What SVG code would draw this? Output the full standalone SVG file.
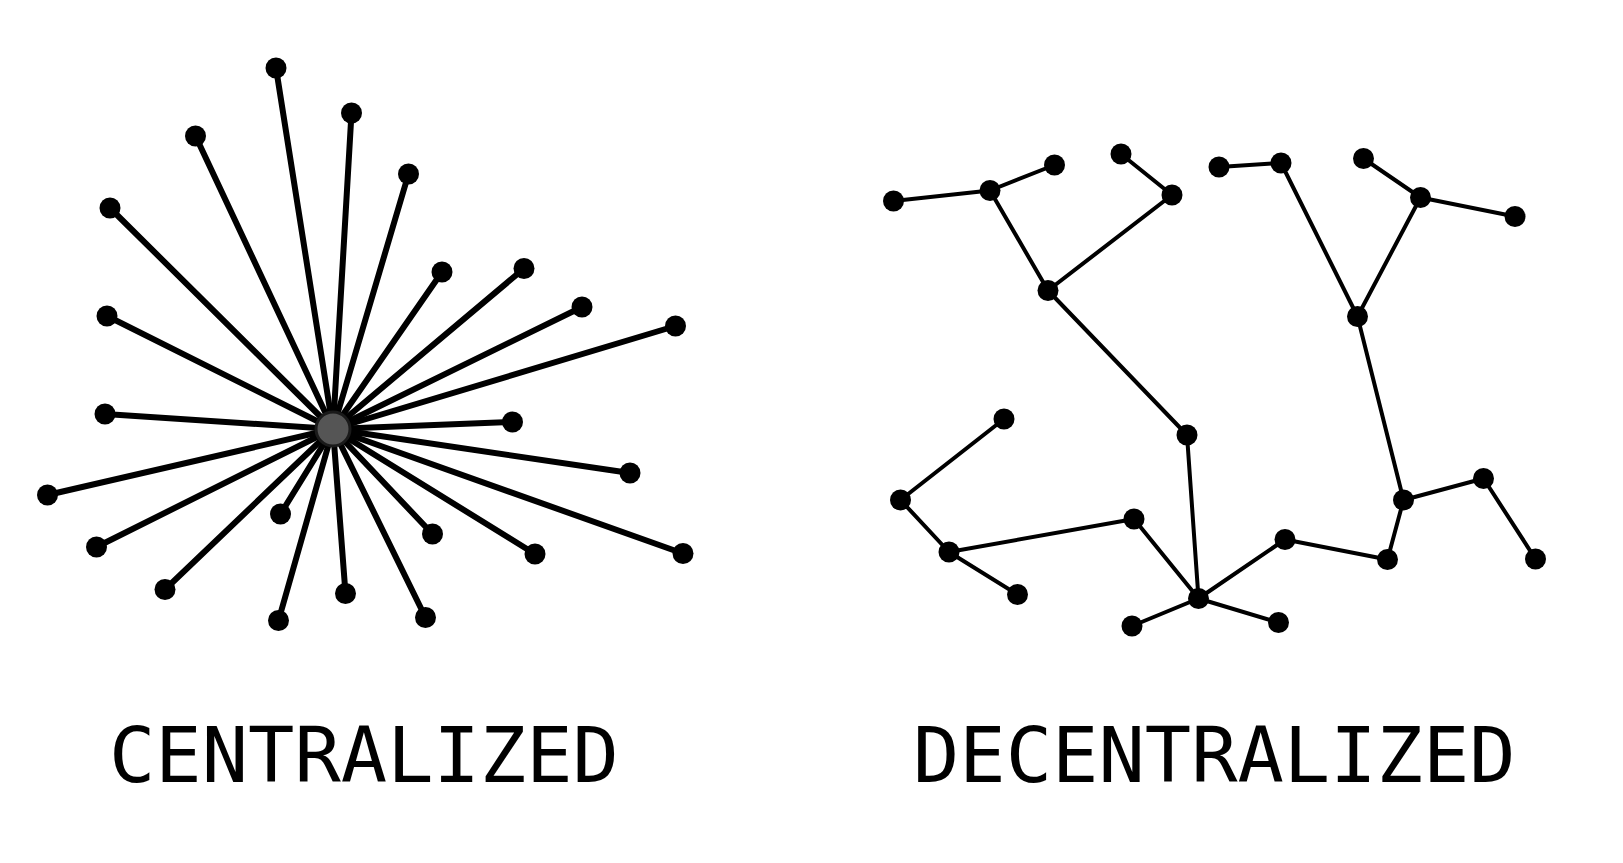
<svg xmlns="http://www.w3.org/2000/svg" width="1623" height="863" viewBox="0 0 1623 863">
<style>
.bg{fill:#fff}
.c line{stroke:#000;stroke-width:6;stroke-linecap:round}
.d line{stroke:#000;stroke-width:4;stroke-linecap:round}
.n{fill:#000}
.hub{fill:#555;stroke:#1a1a1a;stroke-width:3}
.lbl{font-family:"DejaVu Sans Mono","Liberation Mono",monospace;font-size:77px;fill:#000}
</style>
<rect class="bg" width="1623" height="863"/>
<g id="connectors-centralized" class="c">
<line x1="333" y1="429" x2="276" y2="68"/>
<line x1="333" y1="429" x2="351.5" y2="113"/>
<line x1="333" y1="429" x2="195.5" y2="136"/>
<line x1="333" y1="429" x2="408.5" y2="174"/>
<line x1="333" y1="429" x2="110" y2="208"/>
<line x1="333" y1="429" x2="442" y2="272"/>
<line x1="333" y1="429" x2="524" y2="268.5"/>
<line x1="333" y1="429" x2="582" y2="307"/>
<line x1="333" y1="429" x2="675.5" y2="326"/>
<line x1="333" y1="429" x2="107" y2="316"/>
<line x1="333" y1="429" x2="105" y2="414"/>
<line x1="333" y1="429" x2="512.5" y2="422"/>
<line x1="333" y1="429" x2="47.5" y2="495"/>
<line x1="333" y1="429" x2="630" y2="473"/>
<line x1="333" y1="429" x2="96.5" y2="547"/>
<line x1="333" y1="429" x2="280.5" y2="514"/>
<line x1="333" y1="429" x2="432.5" y2="534"/>
<line x1="333" y1="429" x2="535" y2="554"/>
<line x1="333" y1="429" x2="683" y2="553.5"/>
<line x1="333" y1="429" x2="165" y2="589.5"/>
<line x1="333" y1="429" x2="345.5" y2="593.5"/>
<line x1="333" y1="429" x2="278.5" y2="620.5"/>
<line x1="333" y1="429" x2="425.5" y2="617.5"/>
</g>
<g id="connectors-decentralized" class="d">
<line x1="893.5" y1="201" x2="990" y2="190.5"/>
<line x1="990" y1="190.5" x2="1054.5" y2="165"/>
<line x1="990" y1="190.5" x2="1048" y2="290.5"/>
<line x1="1048" y1="290.5" x2="1172" y2="195"/>
<line x1="1172" y1="195" x2="1121" y2="154"/>
<line x1="1048" y1="290.5" x2="1187" y2="435"/>
<line x1="1187" y1="435" x2="1198.5" y2="598.5"/>
<line x1="1198.5" y1="598.5" x2="1134" y2="519"/>
<line x1="1134" y1="519" x2="949" y2="552"/>
<line x1="949" y1="552" x2="900.5" y2="500"/>
<line x1="900.5" y1="500" x2="1004" y2="419"/>
<line x1="949" y1="552" x2="1017.5" y2="594.5"/>
<line x1="1198.5" y1="598.5" x2="1132" y2="626"/>
<line x1="1198.5" y1="598.5" x2="1278.5" y2="622.5"/>
<line x1="1198.5" y1="598.5" x2="1285" y2="539.5"/>
<line x1="1285" y1="539.5" x2="1387.5" y2="559.5"/>
<line x1="1387.5" y1="559.5" x2="1403.5" y2="500"/>
<line x1="1403.5" y1="500" x2="1483.5" y2="478.5"/>
<line x1="1483.5" y1="478.5" x2="1535.5" y2="559"/>
<line x1="1403.5" y1="500" x2="1357.5" y2="316.5"/>
<line x1="1357.5" y1="316.5" x2="1281" y2="163"/>
<line x1="1281" y1="163" x2="1219" y2="167"/>
<line x1="1357.5" y1="316.5" x2="1420.5" y2="197.5"/>
<line x1="1420.5" y1="197.5" x2="1363.5" y2="158.5"/>
<line x1="1420.5" y1="197.5" x2="1515" y2="216.5"/>
</g>
<g id="hub"><circle class="hub" cx="333" cy="429" r="17"/></g>
<g id="centralized-nodes">
<circle id="c1" class="n" cx="276" cy="68" r="10.5"/>
<circle id="c2" class="n" cx="351.5" cy="113" r="10.5"/>
<circle id="c3" class="n" cx="195.5" cy="136" r="10.5"/>
<circle id="c4" class="n" cx="408.5" cy="174" r="10.5"/>
<circle id="c5" class="n" cx="110" cy="208" r="10.5"/>
<circle id="c6" class="n" cx="442" cy="272" r="10.5"/>
<circle id="c7" class="n" cx="524" cy="268.5" r="10.5"/>
<circle id="c8" class="n" cx="582" cy="307" r="10.5"/>
<circle id="c9" class="n" cx="675.5" cy="326" r="10.5"/>
<circle id="c10" class="n" cx="107" cy="316" r="10.5"/>
<circle id="c11" class="n" cx="105" cy="414" r="10.5"/>
<circle id="c12" class="n" cx="512.5" cy="422" r="10.5"/>
<circle id="c13" class="n" cx="47.5" cy="495" r="10.5"/>
<circle id="c14" class="n" cx="630" cy="473" r="10.5"/>
<circle id="c15" class="n" cx="96.5" cy="547" r="10.5"/>
<circle id="c16" class="n" cx="280.5" cy="514" r="10.5"/>
<circle id="c17" class="n" cx="432.5" cy="534" r="10.5"/>
<circle id="c18" class="n" cx="535" cy="554" r="10.5"/>
<circle id="c19" class="n" cx="683" cy="553.5" r="10.5"/>
<circle id="c20" class="n" cx="165" cy="589.5" r="10.5"/>
<circle id="c21" class="n" cx="345.5" cy="593.5" r="10.5"/>
<circle id="c22" class="n" cx="278.5" cy="620.5" r="10.5"/>
<circle id="c23" class="n" cx="425.5" cy="617.5" r="10.5"/>
</g>
<g id="decentralized-nodes">
<circle id="dA" class="n" cx="893.5" cy="201" r="10.5"/>
<circle id="dB" class="n" cx="990" cy="190.5" r="10.5"/>
<circle id="dC" class="n" cx="1054.5" cy="165" r="10.5"/>
<circle id="dD" class="n" cx="1121" cy="154" r="10.5"/>
<circle id="dE" class="n" cx="1172" cy="195" r="10.5"/>
<circle id="dF" class="n" cx="1048" cy="290.5" r="10.5"/>
<circle id="dG" class="n" cx="1187" cy="435" r="10.5"/>
<circle id="dH" class="n" cx="1219" cy="167" r="10.5"/>
<circle id="dI" class="n" cx="1281" cy="163" r="10.5"/>
<circle id="dJ" class="n" cx="1363.5" cy="158.5" r="10.5"/>
<circle id="dK" class="n" cx="1420.5" cy="197.5" r="10.5"/>
<circle id="dL" class="n" cx="1515" cy="216.5" r="10.5"/>
<circle id="dM" class="n" cx="1357.5" cy="316.5" r="10.5"/>
<circle id="dN" class="n" cx="1403.5" cy="500" r="10.5"/>
<circle id="dO" class="n" cx="1483.5" cy="478.5" r="10.5"/>
<circle id="dP" class="n" cx="1535.5" cy="559" r="10.5"/>
<circle id="dQ" class="n" cx="1387.5" cy="559.5" r="10.5"/>
<circle id="dR" class="n" cx="1285" cy="539.5" r="10.5"/>
<circle id="dS" class="n" cx="1198.5" cy="598.5" r="10.5"/>
<circle id="dT" class="n" cx="1132" cy="626" r="10.5"/>
<circle id="dU" class="n" cx="1278.5" cy="622.5" r="10.5"/>
<circle id="dV" class="n" cx="1134" cy="519" r="10.5"/>
<circle id="dW" class="n" cx="1004" cy="419" r="10.5"/>
<circle id="dX" class="n" cx="900.5" cy="500" r="10.5"/>
<circle id="dY" class="n" cx="949" cy="552" r="10.5"/>
<circle id="dZ" class="n" cx="1017.5" cy="594.5" r="10.5"/>
</g>
<g id="labels">
<text class="lbl" x="109" y="782">CENTRALIZED</text>
<text class="lbl" x="913" y="782">DECENTRALIZED</text>
</g>
</svg>
